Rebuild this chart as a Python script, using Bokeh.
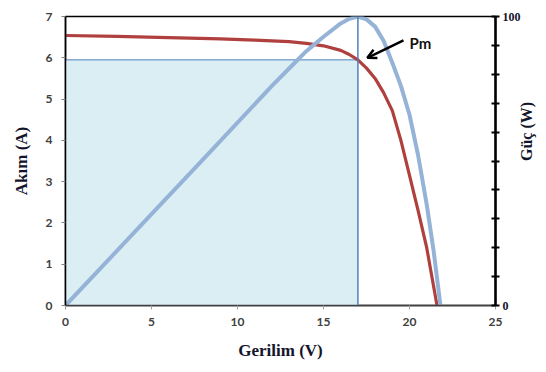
import math
from bokeh.plotting import figure
from bokeh.models import (Range1d, LinearAxis, FixedTicker, Label, Span, Arrow, OpenHead)
from bokeh.embed import file_html
from bokeh.resources import INLINE

# ---- data ----
volt_i = [0, 3, 6, 9, 11, 13, 14, 15, 16, 16.5, 17, 17.5, 18, 18.5, 19, 19.5, 20, 20.5, 21, 21.6]
current = [6.54, 6.52, 6.49, 6.46, 6.43, 6.39, 6.35, 6.29, 6.18, 6.08, 5.95, 5.75, 5.5, 5.15, 4.72,
           4.0, 3.15, 2.3, 1.4, 0.0]
volt_p = [0, 4, 8, 12, 13, 14, 15, 16, 16.5, 17, 17.5, 18, 18.5, 19, 19.5, 20, 20.5, 21, 21.4, 21.8]
power = [0, 25.3, 50.6, 76, 82, 88, 93, 97.6, 99.2, 100, 99, 96.5, 91.5, 84, 76, 66, 52, 35, 19, 0]
v_mp = 17.0
i_mp = 5.95
x_ticks = [0, 5, 10, 15, 20, 25]
y_ticks = [0, 1, 2, 3, 4, 5, 6, 7]
p_ticks = [0, 10, 20, 30, 40, 50, 60, 70, 80, 90, 100]
p_labels = {0: "0", 100: "100"}

x_max, y_max, p_max = 25, 7, 100

p = figure(width=546, height=372, output_backend="svg", toolbar_location=None,
           x_range=Range1d(0, x_max), y_range=Range1d(0, y_max),
           min_border_left=65, min_border_right=51, min_border_top=16, min_border_bottom=67)
p.extra_y_ranges = {"pow": Range1d(0, p_max)}
p.xgrid.visible = False
p.ygrid.visible = False
p.outline_line_color = "black"
p.outline_line_width = 1.5
p.background_fill_color = "white"
p.border_fill_color = "white"

tick_font = "Lato"
tick_col = "#404040"
title_font = "Liberation Serif"
title_col = "#14142a"

for ax in (p.xaxis[0], p.yaxis[0]):
    ax.major_label_text_font = tick_font
    ax.major_label_text_font_style = "bold"
    ax.major_label_text_font_size = "12px"
    ax.major_label_text_color = tick_col
    ax.minor_tick_line_color = None
    ax.major_tick_in = 0
    ax.major_tick_out = 4
    ax.axis_line_width = 1.5
    ax.axis_label_text_font = title_font
    ax.axis_label_text_font_style = "bold"
    ax.axis_label_text_font_size = "17px"
    ax.axis_label_text_color = title_col
p.xaxis.ticker = FixedTicker(ticks=x_ticks)
p.yaxis.ticker = FixedTicker(ticks=y_ticks)
p.xaxis.axis_line_color = "#404040"
p.xaxis.major_tick_line_color = "#A0A0A0"
p.xaxis.major_label_standoff = 8
p.xaxis.axis_label = "Gerilim (V)"
p.xaxis.axis_label_standoff = 12
p.yaxis.axis_line_color = "black"
p.yaxis.major_tick_line_color = "#808080"
p.yaxis.major_label_standoff = 9
p.yaxis.axis_label = "Akım (A)"
p.yaxis.axis_label_standoff = 12

rax = LinearAxis(y_range_name="pow", ticker=FixedTicker(ticks=p_ticks))
rax.major_label_overrides = {t: p_labels.get(t, "") for t in p_ticks}
rax.major_label_text_font = title_font
rax.major_label_text_font_style = "bold"
rax.major_label_text_font_size = "12px"
rax.major_label_text_color = title_col
rax.major_label_standoff = 3
rax.minor_tick_line_color = None
rax.major_tick_in = 4
rax.major_tick_out = 4
rax.major_tick_line_width = 2
rax.major_tick_line_color = "black"
rax.axis_line_color = "black"
rax.axis_line_width = 2.5
rax.axis_label = "Güç (W)"
rax.axis_label_text_font = title_font
rax.axis_label_text_font_style = "bold"
rax.axis_label_text_font_size = "16px"
rax.axis_label_text_color = title_col
rax.axis_label_standoff = 3
rax.axis_label_orientation = math.pi / 2
p.add_layout(rax, "right")

# shaded max power rectangle
p.quad(left=[0], right=[v_mp], bottom=[0], top=[i_mp], fill_color="#DAEEF3",
       line_color=None)
p.segment(x0=[0], y0=[i_mp], x1=[v_mp], y1=[i_mp], line_color="#4F81BD", line_width=1)
p.add_layout(Span(location=v_mp, dimension="height", line_color="#4F81BD", line_width=1.5))

p.line(volt_i, current, line_color="#B0403E", line_width=3.2)
p.line(volt_p, power, y_range_name="pow", line_color="#95B3D7", line_width=4)

# annotations
p.add_layout(Arrow(end=OpenHead(size=9, line_width=2.5, line_color="black"),
                   x_start=19.65, y_start=6.42, x_end=17.55, y_end=6.0,
                   line_width=2.5, line_color="black"))
p.add_layout(Label(x=20.0, y=6.35, text="Pm", text_font="Lato", text_font_style="bold",
                   text_font_size="15px", text_baseline="middle", text_align="left",
                   text_color="#111111"))

open("out.html", "w").write(file_html(p, INLINE))
